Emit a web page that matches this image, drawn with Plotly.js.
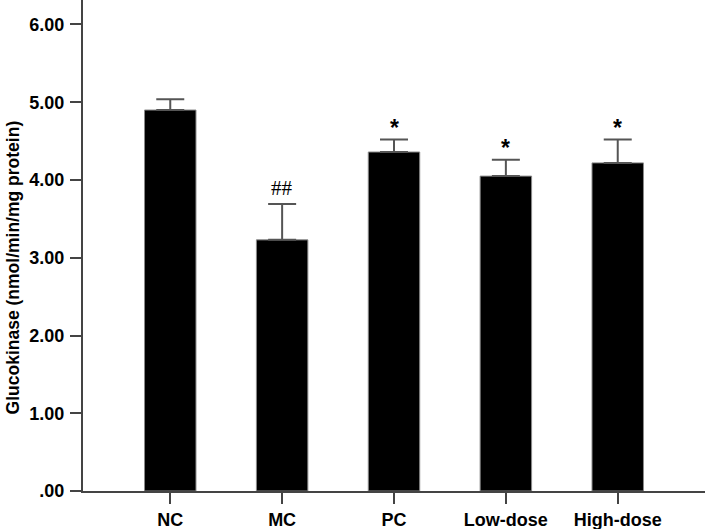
<!DOCTYPE html>
<html>
<head>
<meta charset="utf-8">
<script src="https://cdn.plot.ly/plotly-3.0.1.min.js"></script>
<style>html,body{margin:0;padding:0;background:#fff;}#chart{width:705px;height:529px;}</style>
</head>
<body>
<div id="chart"></div>
<script>
const categories = ["NC", "MC", "PC", "Low-dose", "High-dose"];
const values = [4.90, 3.23, 4.36, 4.05, 4.22];
const errors = [0.14, 0.46, 0.16, 0.21, 0.30];
const marks = ["", "##", "*", "*", "*"];
const yTickVals = [0, 1, 2, 3, 4, 5, 6];
const yTickText = [".00", "1.00", "2.00", "3.00", "4.00", "5.00", "6.00"];
const yTitle = "Glucokinase (nmol/min/mg protein)";

const trace = {
  type: "bar",
  x: categories,
  y: values,
  width: 0.46,
  marker: {color: "#000000", line: {color: "#8a8a8a", width: 1}},
  error_y: {type: "data", array: errors, visible: true, symmetric: false, arrayminus: errors.map(() => 0), color: "#555555", thickness: 2, width: 14},
  hoverinfo: "none"
};

const annotations = [];
categories.forEach((c, i) => {
  if (!marks[i]) return;
  const isHash = marks[i].indexOf("#") >= 0;
  annotations.push({
    x: c, y: values[i] + errors[i], xref: "x", yref: "y",
    text: marks[i], showarrow: false, yanchor: "bottom",
    yshift: isHash ? 2 : -3,
    font: isHash ? {family: "Liberation Serif, serif", size: 21, color: "#000"} : {family: "Liberation Sans, Arial, sans-serif", size: 23, color: "#000", weight: "bold"}
  });
});
annotations.push({
  x: -0.112, xref: "paper", y: 2.88, yref: "y",
  text: yTitle, textangle: -90, showarrow: false,
  xanchor: "center", yanchor: "middle",
  font: {family: "Liberation Sans, Arial, sans-serif", size: 17.5, color: "#000", weight: "bold"}
});

const layout = {
  width: 705, height: 529,
  margin: {l: 83, r: 0, t: 0, b: 38, pad: 0},
  paper_bgcolor: "#fff", plot_bgcolor: "#fff",
  showlegend: false,
  xaxis: {
    range: [-0.78, 4.78], showgrid: false, zeroline: false,
    showline: true, linecolor: "#444", linewidth: 2,
    ticks: "outside", ticklen: 11, tickwidth: 2, tickcolor: "#444",
    tickfont: {family: "Liberation Sans, Arial, sans-serif", size: 18, color: "#000", weight: "bold"},
    fixedrange: true
  },
  yaxis: {
    range: [0, 6.315], showgrid: false, zeroline: false,
    showline: true, linecolor: "#444", linewidth: 2,
    ticks: "outside", ticklen: 11, tickwidth: 2, tickcolor: "#444",
    tickvals: yTickVals, ticktext: yTickText,
    ticklabelstandoff: 2,
    tickfont: {family: "Liberation Sans, Arial, sans-serif", size: 18, color: "#000", weight: "bold"},
    fixedrange: true
  },
  annotations: annotations
};

Plotly.newPlot("chart", [trace], layout, {displayModeBar: false, staticPlot: true});
</script>
</body>
</html>
